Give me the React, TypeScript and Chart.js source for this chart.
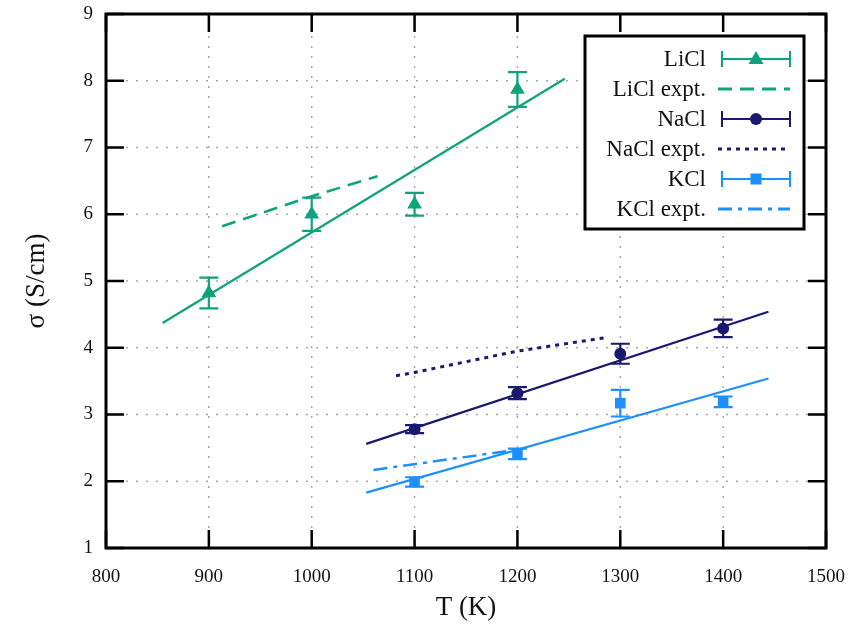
import React, { useEffect, useRef } from 'react';
import { Chart, registerables } from 'chart.js';

Chart.register(...registerables);

// ---------- data ----------
const liclT = [900, 1000, 1100, 1200];
const liclSigma = [4.82, 6.0, 6.15, 7.87];
const liclErr = [0.23, 0.25, 0.17, 0.26];

const naclT = [1100, 1200, 1300, 1400];
const naclSigma = [2.78, 3.32, 3.91, 4.29];
const naclErr = [0.06, 0.09, 0.15, 0.13];

const kclT = [1100, 1200, 1300, 1400];
const kclSigma = [1.99, 2.41, 3.17, 3.19];
const kclErr = [0.07, 0.08, 0.2, 0.08];

const liclFitT = [855, 1246];
const liclFitS = [4.37, 8.03];
const naclFitT = [1053, 1444];
const naclFitS = [2.56, 4.54];
const kclFitT = [1053, 1444];
const kclFitS = [1.83, 3.54];

const liclExptT = [913, 1000, 1064];
const liclExptS = [5.82, 6.27, 6.57];
const naclExptT = [1082, 1100, 1200, 1285];
const naclExptS = [3.58, 3.63, 3.95, 4.15];
const kclExptT = [1060, 1194];
const kclExptS = [2.17, 2.46];

const legendLabels = ['LiCl', 'LiCl expt.', 'NaCl', 'NaCl expt.', 'KCl', 'KCl expt.'];

// ---------- styles ----------
const GREEN = '#0ea37a';
const NAVY = '#191970';
const BLUE = '#1e8fff';
const SERIF = '"Liberation Serif", "Times New Roman", serif';

const DASH_LICL = [14, 8];
const DASH_NACL = [4, 5];
const DASH_KCL = [14, 6, 4, 6];

const pts = (xs: number[], ys: number[]) => xs.map((x, i) => ({ x, y: ys[i] }));

const framePlugin = {
  id: 'gnuFrame',
  beforeDatasetsDraw(chart: any) {
    const { ctx, chartArea: a, scales } = chart;
    const x = scales.x, y = scales.y;
    ctx.save();
    ctx.strokeStyle = '#a8a8a8';
    ctx.lineWidth = 1.5;
    ctx.setLineDash([2, 8]);
    x.ticks.forEach((t: any) => {
      const px = x.getPixelForValue(t.value);
      if (px <= a.left + 1 || px >= a.right - 1) return;
      ctx.beginPath();
      ctx.moveTo(px, a.bottom);
      ctx.lineTo(px, a.top);
      ctx.stroke();
    });
    y.ticks.forEach((t: any) => {
      const py = y.getPixelForValue(t.value);
      if (py <= a.top + 1 || py >= a.bottom - 1) return;
      ctx.beginPath();
      ctx.moveTo(a.left, py);
      ctx.lineTo(a.right, py);
      ctx.stroke();
    });
    ctx.restore();
  },
  afterDatasetsDraw(chart: any) {
    const { ctx, chartArea: a, scales } = chart;
    const x = scales.x, y = scales.y;
    // error bars
    chart.data.datasets.forEach((ds: any, i: number) => {
      if (!ds.errors) return;
      const meta = chart.getDatasetMeta(i);
      ctx.save();
      ctx.strokeStyle = ds.borderColor;
      ctx.lineWidth = 2.2;
      ctx.setLineDash([]);
      meta.data.forEach((el: any, j: number) => {
        const v = ds.data[j].y;
        const e = ds.errors[j];
        const y1 = y.getPixelForValue(v + e);
        const y2 = y.getPixelForValue(v - e);
        const px = el.x;
        ctx.beginPath();
        ctx.moveTo(px, y1);
        ctx.lineTo(px, y2);
        ctx.moveTo(px - 9.5, y1);
        ctx.lineTo(px + 9.5, y1);
        ctx.moveTo(px - 9.5, y2);
        ctx.lineTo(px + 9.5, y2);
        ctx.stroke();
      });
      ctx.restore();
    });
    // frame and inner ticks
    ctx.save();
    ctx.strokeStyle = '#000';
    ctx.lineWidth = 2.5;
    ctx.setLineDash([]);
    const TL = 18;
    ctx.beginPath();
    x.ticks.forEach((t: any) => {
      const px = x.getPixelForValue(t.value);
      ctx.moveTo(px, a.bottom);
      ctx.lineTo(px, a.bottom - TL);
      ctx.moveTo(px, a.top);
      ctx.lineTo(px, a.top + TL);
    });
    y.ticks.forEach((t: any) => {
      const py = y.getPixelForValue(t.value);
      ctx.moveTo(a.left, py);
      ctx.lineTo(a.left + TL, py);
      ctx.moveTo(a.right, py);
      ctx.lineTo(a.right - TL, py);
    });
    ctx.stroke();
    ctx.lineWidth = 3;
    ctx.strokeRect(a.left, a.top, a.right - a.left, a.bottom - a.top);
    ctx.restore();
  },
  afterDraw(chart: any) {
    const { ctx, chartArea: a } = chart;
    const right = a.right - 22;
    const left = right - 219;
    const top = a.top + 22;
    const bottom = top + 193;
    ctx.save();
    ctx.fillStyle = '#fff';
    ctx.fillRect(left, top, right - left, bottom - top);
    ctx.strokeStyle = '#000';
    ctx.lineWidth = 3;
    ctx.strokeRect(left, top, right - left, bottom - top);
    const textX = left + 121;
    const s1 = left + 137;
    const s2 = left + 205;
    const mid = (s1 + s2) / 2;
    ctx.font = `23px ${SERIF}`;
    ctx.textAlign = 'right';
    ctx.textBaseline = 'middle';
    const styles = [
      { color: GREEN, marker: 'triangle' },
      { color: GREEN, dash: DASH_LICL },
      { color: NAVY, marker: 'circle' },
      { color: NAVY, dash: DASH_NACL },
      { color: BLUE, marker: 'rect' },
      { color: BLUE, dash: DASH_KCL },
    ];
    legendLabels.forEach((lab, i) => {
      const yy = top + 23 + i * 30;
      ctx.fillStyle = '#111';
      ctx.fillText(lab, textX, yy + 1);
      const st: any = styles[i];
      ctx.strokeStyle = st.color;
      ctx.fillStyle = st.color;
      if (st.marker) {
        ctx.lineWidth = 2;
        ctx.setLineDash([]);
        ctx.beginPath();
        ctx.moveTo(s1, yy);
        ctx.lineTo(s2, yy);
        ctx.moveTo(s1, yy - 8);
        ctx.lineTo(s1, yy + 8);
        ctx.moveTo(s2, yy - 8);
        ctx.lineTo(s2, yy + 8);
        ctx.stroke();
        ctx.beginPath();
        if (st.marker === 'triangle') {
          ctx.moveTo(mid, yy - 8);
          ctx.lineTo(mid + 7.5, yy + 5);
          ctx.lineTo(mid - 7.5, yy + 5);
          ctx.closePath();
        } else if (st.marker === 'circle') {
          ctx.arc(mid, yy, 6, 0, Math.PI * 2);
        } else {
          ctx.rect(mid - 5.5, yy - 5.5, 11, 11);
        }
        ctx.fill();
      } else {
        ctx.lineWidth = 3;
        ctx.setLineDash(st.dash);
        ctx.beginPath();
        ctx.moveTo(s1 - 4, yy);
        ctx.lineTo(s2, yy);
        ctx.stroke();
      }
    });
    ctx.restore();
  },
};

export default function App() {
  const ref = useRef<HTMLCanvasElement | null>(null);
  useEffect(() => {
    document.body.style.margin = '0';
    const canvas = ref.current;
    if (!canvas) return;
    const markerDs = (label: string, xs: number[], ys: number[], errs: number[], color: string, style: string, r: number) => ({
      label,
      data: pts(xs, ys),
      errors: errs,
      borderColor: color,
      backgroundColor: color,
      pointStyle: style,
      pointRadius: r,
      pointBorderWidth: 0,
      showLine: false,
    });
    const lineDs = (label: string, xs: number[], ys: number[], color: string, dash: number[], w: number) => ({
      label,
      data: pts(xs, ys),
      borderColor: color,
      backgroundColor: color,
      borderDash: dash,
      borderWidth: w,
      pointRadius: 0,
      showLine: true,
      tension: 0,
    });
    const chart = new Chart(canvas, {
      type: 'scatter',
      data: {
        datasets: [
          lineDs('LiCl fit', liclFitT, liclFitS, GREEN, [], 2.2),
          lineDs('NaCl fit', naclFitT, naclFitS, NAVY, [], 2.2),
          lineDs('KCl fit', kclFitT, kclFitS, BLUE, [], 2.2),
          lineDs('LiCl expt.', liclExptT, liclExptS, GREEN, DASH_LICL, 2.5),
          lineDs('NaCl expt.', naclExptT, naclExptS, NAVY, DASH_NACL, 3),
          lineDs('KCl expt.', kclExptT, kclExptS, BLUE, DASH_KCL, 2.5),
          markerDs('LiCl', liclT, liclSigma, liclErr, GREEN, 'triangle', 8.5),
          markerDs('NaCl', naclT, naclSigma, naclErr, NAVY, 'circle', 6),
          markerDs('KCl', kclT, kclSigma, kclErr, BLUE, 'rect', 7.5),
        ] as any,
      },
      options: {
        responsive: false,
        animation: false,
        layout: { padding: { left: 0, right: 29, top: 14, bottom: 0 } },
        plugins: { legend: { display: false }, tooltip: { enabled: false } },
        scales: {
          x: {
            type: 'linear',
            min: 800,
            max: 1500,
            ticks: { stepSize: 100, color: '#111', font: { family: SERIF, size: 19 }, padding: 18, maxRotation: 0, callback: (v: any) => String(v) },
            grid: { display: false, drawTicks: false },
            border: { display: false },
            title: { display: true, text: 'T (K)', color: '#111', font: { family: SERIF, size: 27 }, padding: { top: 0, bottom: 12 } },
            afterFit: (s: any) => { s.height = 88; s.paddingLeft = 0; s.paddingRight = 0; },
          },
          y: {
            type: 'linear',
            min: 1,
            max: 9,
            ticks: { stepSize: 1, color: '#111', font: { family: SERIF, size: 19 }, padding: 13, callback: (v: any) => String(v) },
            grid: { display: false, drawTicks: false },
            border: { display: false },
            title: { display: true, text: 'σ (S/cm)', color: '#111', font: { family: SERIF, size: 27 }, padding: { top: 21, bottom: 0 } },
            afterFit: (s: any) => { s.width = 106; s.paddingTop = 0; s.paddingBottom = 0; },
          },
        },
      } as any,
      plugins: [framePlugin],
    });
    return () => chart.destroy();
  }, []);
  return (
    <div style={{ width: 855, height: 636 }}>
      <canvas ref={ref} width={855} height={636} style={{ display: 'block' }} />
    </div>
  );
}
